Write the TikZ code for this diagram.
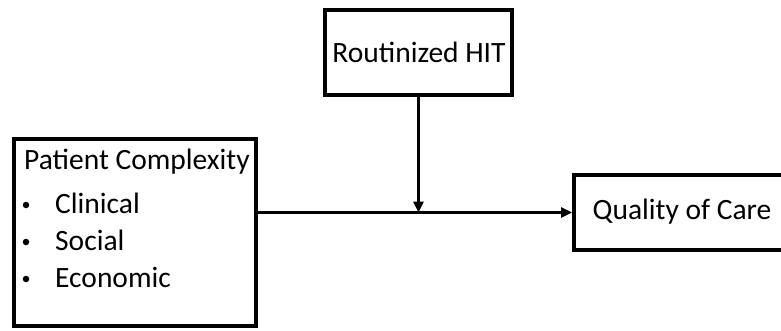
\documentclass[tikz,border=0pt]{standalone}
\usepackage{fontspec}
\setmainfont{Carlito}
\usetikzlibrary{arrows.meta}
\begin{document}
\begin{tikzpicture}[x=1pt,y=-1pt,
  box/.style={draw=black, line width=4pt, fill=white, inner sep=0pt},
  lbl/.style={font=\fontsize{29.5}{32}\selectfont, inner sep=0pt},
  dot/.style={circle, fill=black, inner sep=0pt, minimum size=6.5pt},
  arr/.style={line width=2.6pt, -{Triangle[length=11pt,width=10pt]}}]
  \useasboundingbox (0,0) rectangle (781,331);

  % boxes (the outcome box runs off the right edge of the page)
  \node[box, minimum width=187pt, minimum height=85pt] (hit) at (418.5,52.5) {};
  \node[box, minimum width=242pt, minimum height=187pt] (pc) at (135,232.5) {};
  \node[box, minimum width=224pt, minimum height=75pt] (qc) at (686,212.5) {};

  % labels
  \node[lbl] (hitlbl) at (419,52) {Routinized HIT};
  \node[lbl] (qclbl) at (682,212) {Quality of Care};
  \node[lbl, anchor=west] (pclbl) at (24,162) {Patient Complexity};
  \node[dot] (b1) at (26,205) {};
  \node[lbl, anchor=west] (i1) at (55,203) {Clinical};
  \node[dot] (b2) at (26,242) {};
  \node[lbl, anchor=west] (i2) at (55,240) {Social};
  \node[dot] (b3) at (26,279) {};
  \node[lbl, anchor=west] (i3) at (55,277) {Economic};

  % connectors
  \coordinate (join) at (hit.south |- qc.west);
  \draw[arr] (pc.east |- qc.west) -- (qc.west);
  \draw[arr] (hit.south) -- (join);
\end{tikzpicture}
\end{document}
